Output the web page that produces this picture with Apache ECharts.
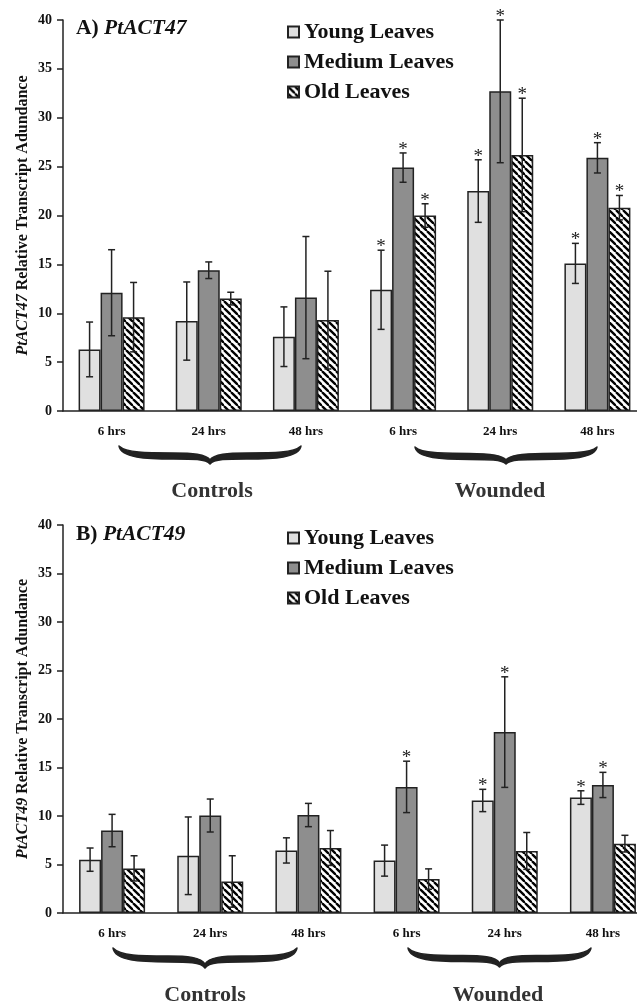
<!DOCTYPE html>
<html>
<head>
<meta charset="utf-8">
<script src="https://cdn.jsdelivr.net/npm/echarts@6/dist/echarts.min.js"></script>
<style>
  html, body { margin: 0; padding: 0; background: #fff; }
  #main { width: 637px; height: 1001px; }
</style>
</head>
<body>
<div id="main"></div>
<script>
const categories = ['6 hrs', '24 hrs', '48 hrs', '6 hrs', '24 hrs', '48 hrs'];
const seriesNames = ['Young Leaves', 'Medium Leaves', 'Old Leaves'];

// panel A: PtACT47
const a47Young = [6.3, 9.2, 7.6, 12.4, 22.5, 15.1];
const a47YoungErr = [2.8, 4.0, 3.05, 4.05, 3.2, 2.05];
const a47Medium = [12.1, 14.4, 11.6, 24.9, 32.7, 25.9];
const a47MediumErr = [4.4, 0.85, 6.25, 1.5, 7.3, 1.55];
const a47Old = [9.6, 11.5, 9.3, 20.0, 26.2, 20.8];
const a47OldErr = [3.55, 0.65, 5.0, 1.2, 5.8, 1.25];
const a47Stars = [[0, 0, 0, 1, 1, 1], [0, 0, 0, 1, 1, 1], [0, 0, 0, 1, 1, 1]];

// panel B: PtACT49
const b49Young = [5.5, 5.9, 6.45, 5.4, 11.6, 11.9];
const b49YoungErr = [1.2, 4.0, 1.3, 1.6, 1.15, 0.7];
const b49Medium = [8.5, 10.05, 10.1, 13.0, 18.65, 13.2];
const b49MediumErr = [1.67, 1.7, 1.2, 2.65, 5.7, 1.3];
const b49Old = [4.6, 3.25, 6.7, 3.5, 6.4, 7.15];
const b49OldErr = [1.3, 2.65, 1.8, 1.05, 1.9, 0.86];
const b49Stars = [[0, 0, 0, 0, 1, 1], [0, 0, 0, 1, 1, 1], [0, 0, 0, 0, 0, 0]];

const FONT = '"Liberation Serif", "Times New Roman", serif';
const INK = '#222';

// diagonal hatch for old leaves
function hatch() {
  const s = 7;
  const c = document.createElement('canvas');
  c.width = s; c.height = s;
  const g = c.getContext('2d');
  g.fillStyle = '#fff';
  g.fillRect(0, 0, s, s);
  g.strokeStyle = '#000';
  g.lineWidth = 2.3;
  [-s, 0, s].forEach(o => {
    g.beginPath();
    g.moveTo(o, 0);
    g.lineTo(o + s, s);
    g.stroke();
  });
  return c;
}

const fills = ['#e0e0e0', '#8e8e8e', { image: hatch(), repeat: 'repeat' }];
const BAR_W = 22;

function errRender(offset) {
  return function (params, api) {
    const i = api.value(0), m = api.value(1), e = api.value(2), star = api.value(3);
    const top = api.coord([i, m + e]);
    const bot = api.coord([i, m - e]);
    const x = top[0] + offset;
    const ls = { stroke: INK, lineWidth: 1.5 };
    const kids = [
      { type: 'line', shape: { x1: x, y1: top[1], x2: x, y2: bot[1] }, style: ls },
      { type: 'line', shape: { x1: x - 3.5, y1: top[1], x2: x + 3.5, y2: top[1] }, style: ls },
      { type: 'line', shape: { x1: x - 3.5, y1: bot[1], x2: x + 3.5, y2: bot[1] }, style: ls }
    ];
    if (star) {
      kids.push({
        type: 'text',
        style: { text: '*', x: x, y: top[1] - 3, textAlign: 'center', textVerticalAlign: 'middle',
                 font: '19px ' + FONT, fill: '#222' }
      });
    }
    return { type: 'group', children: kids };
  };
}

function panelSeries(idx, means, errs, stars) {
  const out = [];
  means.forEach((vals, k) => {
    out.push({
      name: seriesNames[k],
      type: 'bar',
      xAxisIndex: idx,
      yAxisIndex: idx,
      data: vals,
      barWidth: BAR_W,
      barGap: '0%',
      animation: false,
      itemStyle: { color: fills[k], borderColor: INK, borderWidth: 1.5 },
      z: 2
    });
  });
  means.forEach((vals, k) => {
    out.push({
      type: 'custom',
      xAxisIndex: idx,
      yAxisIndex: idx,
      renderItem: errRender((k - 1) * BAR_W),
      data: vals.map((v, i) => [i, v, errs[k][i], stars[k][i]]),
      encode: { x: 0, y: 1 },
      animation: false,
      silent: true,
      z: 5
    });
  });
  return out;
}

function xAxisOf(idx) {
  return {
    type: 'category',
    gridIndex: idx,
    data: categories,
    axisLine: { lineStyle: { color: INK, width: 1.5 } },
    axisTick: { length: 5, lineStyle: { color: INK, width: 1.5 } },
    axisLabel: { fontSize: 13, fontWeight: 'bold', fontFamily: FONT, color: '#111', margin: 14 }
  };
}

function yAxisOf(idx, gene) {
  return {
    type: 'value',
    gridIndex: idx,
    min: 0,
    max: 40,
    interval: 5,
    name: '{i|' + gene + '} Relative Transcript Adundance',
    nameLocation: 'middle',
    nameGap: 32,
    nameMoveOverlap: false,
    nameTextStyle: {
      fontSize: 16, fontWeight: 'bold', fontFamily: FONT, color: '#111',
      rich: { i: { fontSize: 16, fontWeight: 'bold', fontStyle: 'italic', fontFamily: FONT, color: '#111' } }
    },
    axisLine: { show: true, lineStyle: { color: INK, width: 1.5 } },
    axisTick: { show: true, length: 6, lineStyle: { color: INK, width: 1.5 } },
    splitLine: { show: false },
    axisLabel: { fontSize: 14, fontWeight: 'bold', fontFamily: FONT, color: '#111', margin: 11 }
  };
}

function legendOf(top) {
  return {
    data: seriesNames,
    orient: 'vertical',
    left: 282,
    top: top,
    icon: 'rect',
    itemWidth: 11,
    itemHeight: 11,
    itemGap: 8,
    selectedMode: false,
    textStyle: { fontSize: 22, fontWeight: 'bold', fontFamily: FONT, color: '#111', lineHeight: 22 }
  };
}

function titleOf(label, gene, top) {
  return {
    text: '{a|' + label + ' }{b|' + gene + '}',
    left: 76,
    top: top,
    padding: 0,
    textStyle: {
      rich: {
        a: { fontSize: 21.5, fontWeight: 'bold', fontFamily: FONT, color: '#111' },
        b: { fontSize: 21.5, fontWeight: 'bold', fontStyle: 'italic', fontFamily: FONT, color: '#111' }
      }
    }
  };
}

// group braces below the time labels: [x0, x1, y0, height]
const braces = [
  [119, 301, 446, 18], [415, 597, 447, 17],
  [113, 297, 948, 20], [408, 591, 948, 19]
];

// filled curly brace, thick in the arms and thin at the tips
function brace(x0, x1, y0, h) {
  const xc = (x0 + x1) / 2, w = x1 - x0, ym = y0 + h * 0.55, yt = y0 + h;
  const p = (x, y) => x.toFixed(1) + ',' + y.toFixed(1);
  return 'M' + p(x0, y0) +
    ' C' + p(x0 + 0.04 * w, ym - 3) + ' ' + p(x0 + 0.15 * w, ym - 3) + ' ' + p(x0 + 0.3 * w, ym - 3) +
    ' C' + p(xc - 0.1 * w, ym - 3) + ' ' + p(xc - 0.02 * w, ym - 2) + ' ' + p(xc, yt - 4) +
    ' C' + p(xc + 0.02 * w, ym - 2) + ' ' + p(xc + 0.1 * w, ym - 3) + ' ' + p(x1 - 0.3 * w, ym - 3) +
    ' C' + p(x1 - 0.15 * w, ym - 3) + ' ' + p(x1 - 0.04 * w, ym - 3) + ' ' + p(x1, y0) +
    ' C' + p(x1 - 0.01 * w, ym + 2) + ' ' + p(x1 - 0.15 * w, ym + 3) + ' ' + p(x1 - 0.3 * w, ym + 3) +
    ' C' + p(xc + 0.1 * w, ym + 3) + ' ' + p(xc + 0.02 * w, ym + 3) + ' ' + p(xc, yt) +
    ' C' + p(xc - 0.02 * w, ym + 3) + ' ' + p(xc - 0.1 * w, ym + 3) + ' ' + p(x0 + 0.3 * w, ym + 3) +
    ' C' + p(x0 + 0.15 * w, ym + 3) + ' ' + p(x0 + 0.01 * w, ym + 2) + ' ' + p(x0, y0) + ' Z';
}

const braceSeries = {
  type: 'custom',
  coordinateSystem: 'none',
  silent: true,
  animation: false,
  data: [0],
  renderItem: function () {
    return {
      type: 'group',
      children: braces.map(b => ({
        type: 'path',
        shape: { pathData: brace(b[0], b[1], b[2], b[3]) },
        style: { fill: INK, stroke: INK, lineWidth: 1.5, lineJoin: 'round', lineCap: 'round' }
      }))
    };
  }
};

function groupLabel(text, x, y) {
  return {
    type: 'text',
    x: x, y: y,
    style: { text: text, textAlign: 'center', textVerticalAlign: 'middle',
             font: 'bold 22px ' + FONT, fill: '#333' }
  };
}

const chart = echarts.init(document.getElementById('main'));

const option = {
  animation: false,
  backgroundColor: '#fff',
  title: [titleOf('A)', 'PtACT47', 17), titleOf('B)', 'PtACT49', 523)],
  legend: [legendOf(16), legendOf(522)],
  grid: [
    { left: 63, top: 20, width: 583, height: 391, outerBoundsMode: 'none' },
    { left: 63, top: 525, width: 589, height: 388, outerBoundsMode: 'none' }
  ],
  xAxis: [xAxisOf(0), xAxisOf(1)],
  yAxis: [yAxisOf(0, 'PtACT47'), yAxisOf(1, 'PtACT49')],
  series: [
    ...panelSeries(0, [a47Young, a47Medium, a47Old], [a47YoungErr, a47MediumErr, a47OldErr], a47Stars),
    ...panelSeries(1, [b49Young, b49Medium, b49Old], [b49YoungErr, b49MediumErr, b49OldErr], b49Stars),
    braceSeries
  ],
  graphic: [
    groupLabel('Controls', 212, 491),
    groupLabel('Wounded', 500, 491),
    groupLabel('Controls', 205, 995),
    groupLabel('Wounded', 498, 995)
  ]
};

chart.setOption(option);
</script>
</body>
</html>
